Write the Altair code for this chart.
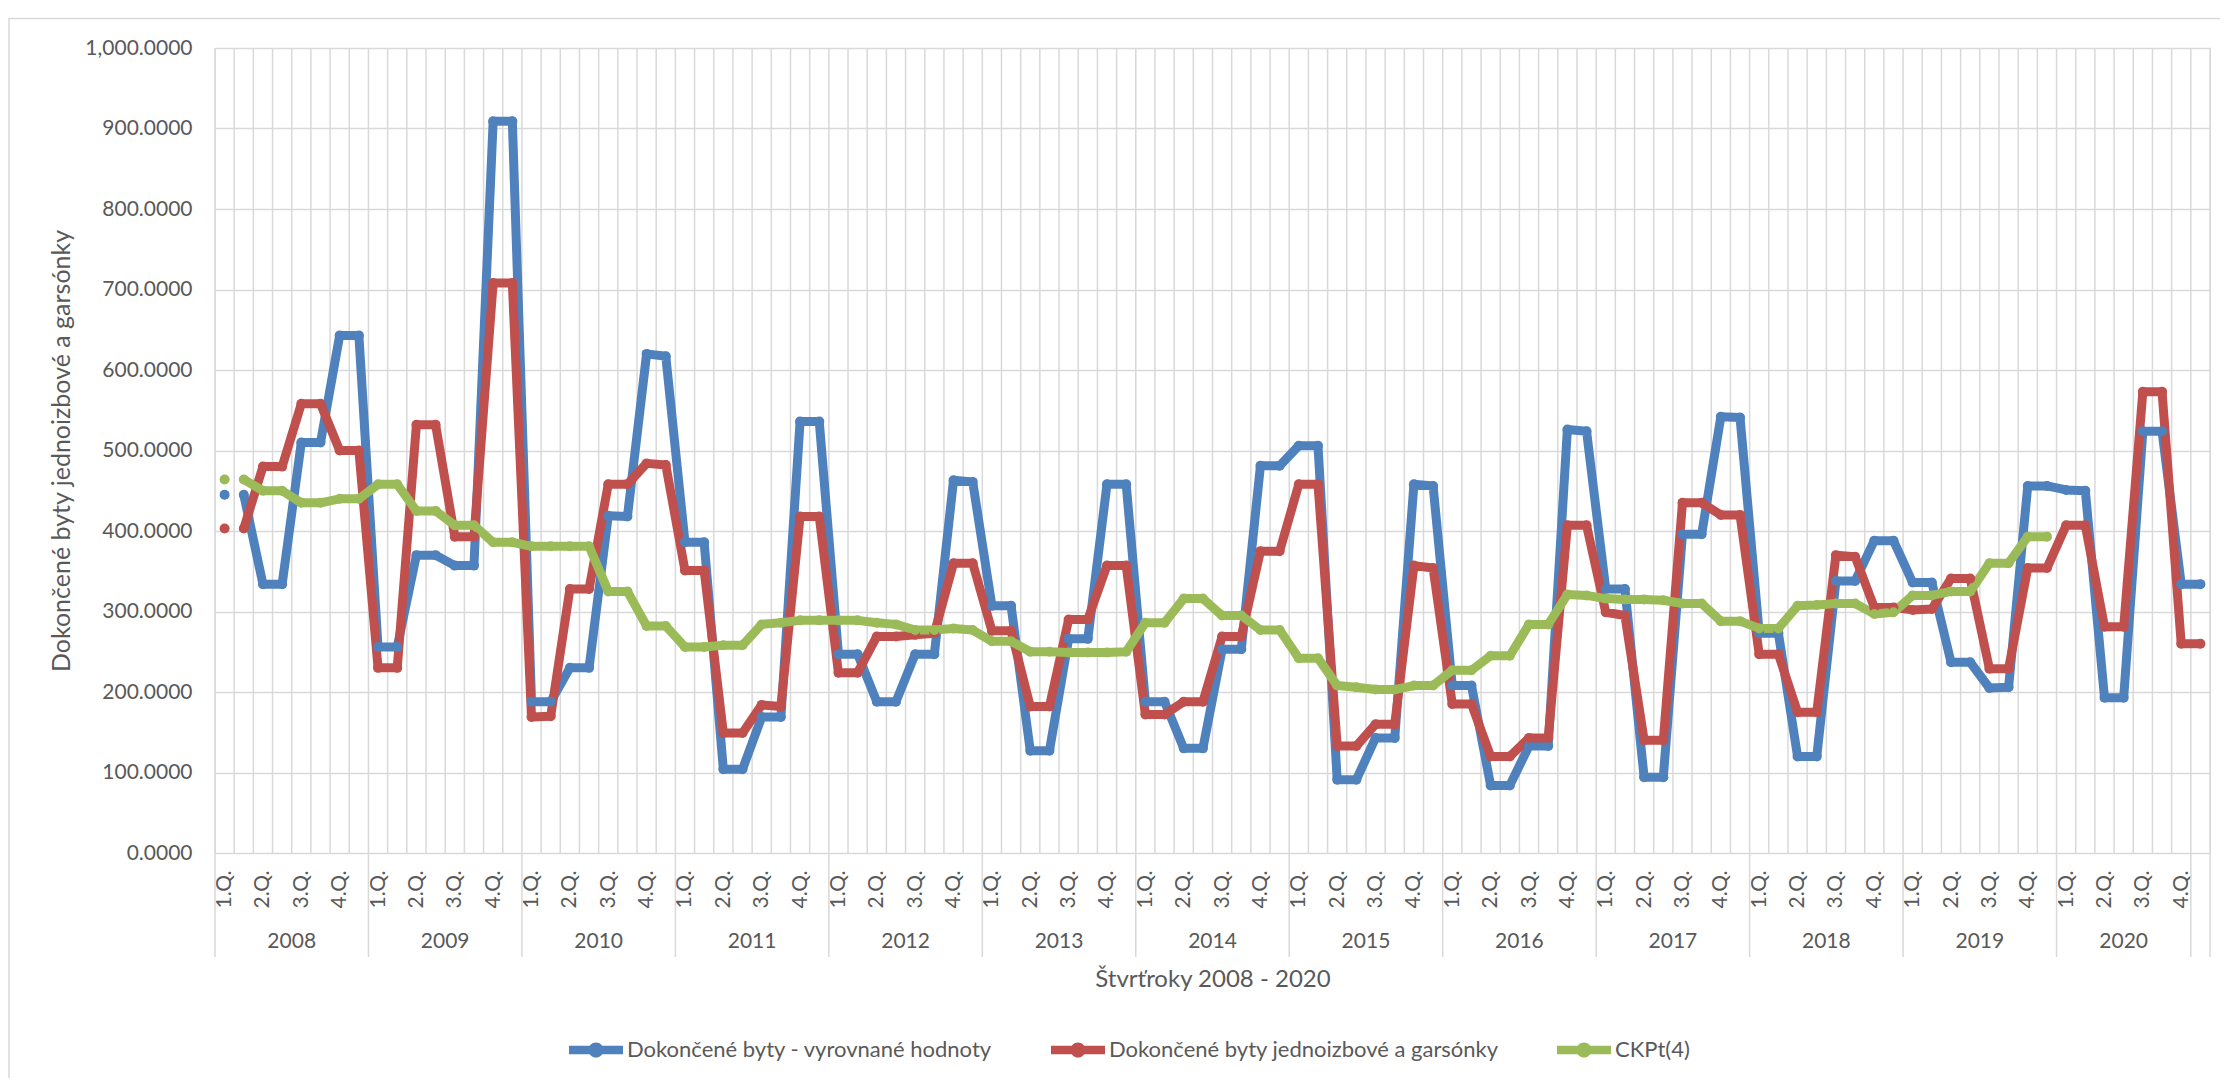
import json
import altair as alt
import pandas as pd

# ---------------- data ----------------
series_names = [
    "Dokončené byty - vyrovnané hodnoty",
    "Dokončené byty jednoizbové a garsónky",
    "CKPt(4)",
]
series_colors = ["#4F81BD", "#C0504D", "#9BBB59"]
years = [str(y) for y in range(2008, 2021)]
quarter_labels = ["1.Q.", "2.Q.", "3.Q.", "4.Q."]

blue = [445, 445, 334, 334, 510, 510, 643, 643, 256, 256, 370, 370, 357, 357, 909, 909,
        188, 188, 230, 230, 419, 418, 620, 617, 386, 386, 104, 104, 169, 169, 536, 536,
        247, 247, 188, 188, 247, 247, 463, 461, 307, 307, 127, 127, 266, 266, 458, 458,
        188, 188, 130, 130, 253, 253, 481, 481, 506, 506, 91, 91, 143, 143, 458, 456,
        208, 208, 84, 84, 133, 133, 526, 524, 328, 328, 94, 94, 396, 396, 542, 541,
        273, 273, 120, 120, 338, 338, 388, 388, 336, 336, 237, 237, 205, 206, 456, 456,
        451, 450, 193, 193, 524, 524, 334, 334]

red = [403, 403, 480, 480, 558, 558, 500, 500, 230, 230, 532, 532, 393, 393, 708, 708,
       169, 170, 328, 328, 458, 458, 484, 482, 351, 351, 149, 149, 184, 182, 418, 418,
       224, 224, 269, 269, 271, 273, 360, 360, 276, 276, 182, 182, 290, 290, 357, 357,
       172, 172, 188, 188, 269, 269, 375, 375, 458, 458, 133, 133, 160, 160, 357, 354,
       185, 185, 120, 120, 143, 143, 407, 407, 299, 295, 140, 140, 435, 435, 420, 420,
       247, 247, 175, 175, 370, 368, 305, 305, 302, 303, 341, 341, 229, 229, 354, 354,
       407, 407, 281, 281, 573, 573, 260, 260]

green = [464, 464, 450, 450, 435, 435, 440, 440, 458, 458, 425, 425, 407, 407, 386, 386,
         381, 381, 381, 381, 325, 325, 282, 282, 256, 256, 258, 258, 284, 286, 289, 289,
         289, 289, 286, 284, 277, 277, 279, 277, 263, 263, 250, 250, 249, 249, 249, 250,
         286, 286, 316, 316, 295, 295, 277, 277, 242, 242, 208, 206, 203, 203, 208, 208,
         227, 227, 245, 245, 284, 284, 321, 320, 316, 315, 315, 314, 310, 310, 288, 288,
         279, 279, 307, 308, 310, 310, 297, 299, 320, 320, 325, 325, 360, 360, 393, 393,
         None, None, None, None, None, None, None, None]

n_cat = len(blue)  # 104 category slots (two per quarter)

rows = []
for name, vals in zip(series_names, [blue, red, green]):
    for i, v in enumerate(vals):
        if v is None:
            continue
        rows.append({"series": name, "pos": i + 0.5, "value": v, "seg": 0 if i == 0 else 1})
df = pd.DataFrame(rows)

grid_df = pd.DataFrame({"pos": [float(b) for b in range(n_cat + 1)]})
sep_df = pd.DataFrame({"pos": [float(s) for s in [8 * k for k in range(13)] + [n_cat - 1, n_cat]]})
year_df = pd.DataFrame({
    "year": years,
    "pos": [8 * k + 4 for k in range(12)] + [(96 + n_cat - 1) / 2],
})

# ---------------- styling ----------------
FONT = "Lato"
TXT = "#595959"
GRID = "#D9D9D9"
W, H = 1995, 805

xscale = alt.Scale(domain=[0, n_cat], nice=False, zero=False)
yscale = alt.Scale(domain=[0, 1000], nice=False, zero=True)

label_expr = json.dumps(quarter_labels) + "[floor(datum.value / 2) % 4]"
xaxis = alt.Axis(
    values=[i + 0.5 for i in range(0, n_cat, 2)],
    labelExpr=label_expr,
    labelAngle=270,
    labelPadding=17,
    labelFont=FONT, labelFontSize=21, labelColor=TXT,
    labelOverlap=False, labelFlush=False, labelBound=False,
    grid=False, ticks=False, tickSize=0, domain=False,
    title="Štvrťroky 2008 - 2020",
    titleFont=FONT, titleFontSize=24, titleColor=TXT, titleFontWeight="normal",
    titleY=126, titleBaseline="middle",
)
yaxis = alt.Axis(
    values=list(range(0, 1001, 100)),
    format=",.4f",
    grid=True, gridColor=GRID, gridWidth=1.5,
    ticks=False, tickSize=0, domain=False,
    labelPadding=23, labelFont=FONT, labelFontSize=21, labelColor=TXT,
    title="Dokončené byty jednoizbové a garsónky",
    titleFont=FONT, titleFontSize=25, titleColor=TXT, titleFontWeight="normal",
    titleX=-154, titleBaseline="middle",
)

X = alt.X("pos:Q", scale=xscale, axis=xaxis, title="Štvrťroky 2008 - 2020")
Y = alt.Y("value:Q", scale=yscale, axis=yaxis, title="Dokončené byty jednoizbové a garsónky")

legend_symbol = ("M-1,-0.16L1,-0.16L1,0.16L-1,0.16Z"
                 "M0.28,0A0.28,0.28,0,1,1,-0.28,0A0.28,0.28,0,1,1,0.28,0Z")

color_scale = alt.Scale(domain=series_names, range=series_colors)

# outer chart-area frame (decoration)
frame = alt.Chart(pd.DataFrame({"a": [0]})).mark_rect(
    fillOpacity=0, stroke=GRID, strokeWidth=1.5
).encode(
    x=alt.value(-206), x2=alt.value(2015), y=alt.value(-29.5), y2=alt.value(1040)
)

vgrid = alt.Chart(grid_df).mark_rule(color=GRID, strokeWidth=1.5).encode(
    x=X, y=alt.value(0), y2=alt.value(H),
)

year_sep = alt.Chart(sep_df).mark_rule(color=GRID, strokeWidth=1.5).encode(
    x=X, y=alt.value(H), y2=alt.value(909),
)

year_text = alt.Chart(year_df).mark_text(
    font=FONT, fontSize=21, color=TXT, align="center", baseline="middle"
).encode(
    x=X, y=alt.value(894), text="year:N",
)

line_layers = []
for name, col in zip(series_names, series_colors):
    line_layers.append(
        alt.Chart(df[df["series"] == name]).mark_line(
            color=col, strokeWidth=9, strokeJoin="round", strokeCap="round"
        ).encode(x=X, y=Y, detail="seg:N")
    )

points = alt.Chart(df).mark_point(
    filled=True, size=100, opacity=1, strokeWidth=0
).encode(
    x=X, y=Y,
    color=alt.Color(
        "series:N", scale=color_scale,
        legend=alt.Legend(
            title=None, orient="none", legendX=354, legendY=975,
            direction="horizontal",
            symbolType=legend_symbol, symbolSize=2916,
            symbolStrokeWidth=0, symbolOpacity=1,
            labelFont=FONT, labelFontSize=22, labelColor=TXT,
            labelOffset=4, columnPadding=58, padding=0, labelLimit=1000,
        ),
    ),
)

chart = alt.layer(frame, vgrid, year_sep, year_text, *line_layers, points).properties(
    width=W, height=H,
    padding={"left": 207, "top": 40, "right": 10, "bottom": 225},
    autosize=alt.AutoSizeParams(type="none"),
).configure_view(stroke=None).configure(font=FONT)

chart.save("out.html", embed_options={"renderer": "svg", "actions": False})
